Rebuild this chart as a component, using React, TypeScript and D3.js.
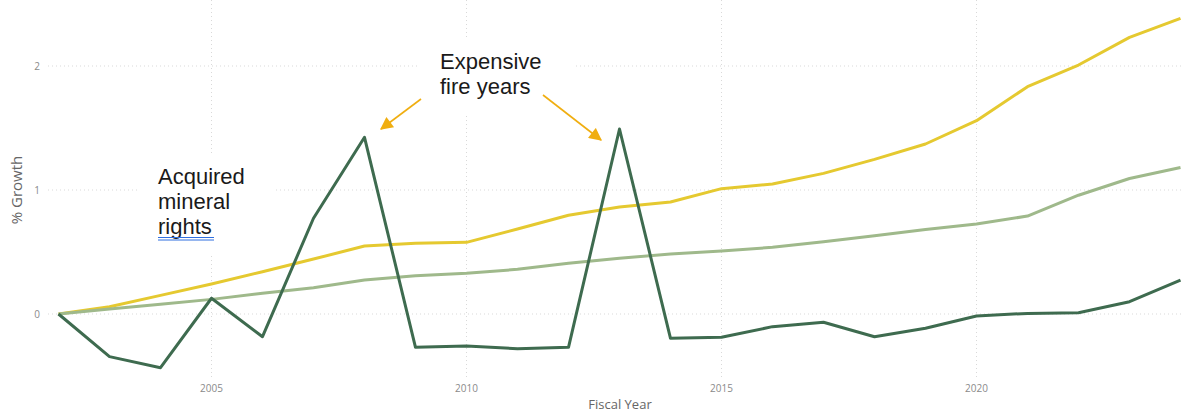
import React from "react";
import * as d3 from "d3";

const years: number[] = [2002,2003,2004,2005,2006,2007,2008,2009,2010,2011,2012,2013,2014,2015,2016,2017,2018,2019,2020,2021,2022,2023,2024];
const seriesDark: number[] = [0,-0.344,-0.433,0.127,-0.183,0.772,1.425,-0.269,-0.258,-0.280,-0.269,1.492,-0.196,-0.188,-0.102,-0.067,-0.183,-0.115,-0.016,0.005,0.01,0.099,0.274];
const seriesYellow: number[] = [0,0.059,0.15,0.242,0.341,0.443,0.548,0.570,0.578,0.685,0.796,0.863,0.903,1.011,1.048,1.134,1.247,1.371,1.559,1.833,2.008,2.231,2.384];
const seriesSage: number[] = [0,0.04,0.078,0.118,0.167,0.212,0.274,0.309,0.328,0.360,0.409,0.449,0.484,0.508,0.538,0.583,0.631,0.682,0.725,0.790,0.958,1.093,1.181];
const xTicks: number[] = [2005,2010,2015,2020];
const yTicks: number[] = [0,1,2];

const W = 1183, H = 415;

export default function App() {
  const x = d3.scaleLinear().domain([2002, 2024]).range([58.5, 1180.5]);
  const y = d3.scaleLinear().domain([0, 2]).range([314, 66]);
  const line = (vals: number[]) =>
    d3.line<number>().x((_, i) => x(years[i])).y((v) => y(v))(vals) || "";

  const axisFont = "'Open Sans', 'Noto Sans', sans-serif";
  const annFont = "'Liberation Sans', Arial, sans-serif";
  const arrowColor = "#f0ae10";

  return (
    <svg width={W} height={H} style={{ position: "absolute", left: 0, top: 0, background: "#fff" }}>
      <defs>
        <marker id="ah" viewBox="0 0 10 10" refX="9" refY="5" markerWidth="9" markerHeight="8" orient="auto" markerUnits="strokeWidth">
          <path d="M0,0 L10,5 L0,10 z" fill={arrowColor} />
        </marker>
      </defs>
      {yTicks.map((t) => (
        <line key={"gy" + t} x1={48} x2={1181} y1={y(t)} y2={y(t)} stroke="#d9d9d9" strokeWidth={1} strokeDasharray="1,3" />
      ))}
      {xTicks.map((t) => (
        <line key={"gx" + t} x1={x(t)} x2={x(t)} y1={0} y2={380} stroke="#d9d9d9" strokeWidth={1} strokeDasharray="1,3" />
      ))}
      <rect x={139} y={154} width={134} height={99} fill="#fff" />
      <rect x={420} y={40} width={153} height={75} fill="#fff" />
      {yTicks.map((t) => (
        <text key={"ty" + t} x={40} y={y(t) + 3.5} textAnchor="end" fontSize={10} fill="#8a8a8a" fontFamily={axisFont}>{t}</text>
      ))}
      {xTicks.map((t) => (
        <text key={"tx" + t} x={x(t)} y={392} textAnchor="middle" fontSize={10} fill="#8a8a8a" fontFamily={axisFont}>{t}</text>
      ))}
      <text x={620} y={409} textAnchor="middle" fontSize={13} fill="#666" fontFamily={axisFont}>Fiscal Year</text>
      <text transform="translate(22,190) rotate(-90)" textAnchor="middle" fontSize={15} fill="#666" fontFamily={axisFont}>% Growth</text>
      <path d={line(seriesYellow)} fill="none" stroke="#e5c930" strokeWidth={3} strokeLinejoin="round" />
      <path d={line(seriesSage)} fill="none" stroke="#9fb98b" strokeWidth={3} strokeLinejoin="round" />
      <path d={line(seriesDark)} fill="none" stroke="#3e6b4f" strokeWidth={3} strokeLinejoin="round" />
      <g fontFamily={annFont} fontSize={22} fill="#1a1a1a">
        <text x={158} y={184}>Acquired</text>
        <text x={158} y={209}>mineral</text>
        <text x={158} y={234}>rights</text>
        <text x={440} y={69}>Expensive</text>
        <text x={440} y={94}>fire years</text>
      </g>
      <line x1={158} x2={214} y1={237.5} y2={237.5} stroke="#2f6fe0" strokeWidth={1} />
      <line x1={158} x2={214} y1={240} y2={240} stroke="#2f6fe0" strokeWidth={1} />
      <line x1={421} y1={99} x2={381} y2={129} stroke={arrowColor} strokeWidth={1.6} markerEnd="url(#ah)" />
      <line x1={543} y1={95} x2={601} y2={140} stroke={arrowColor} strokeWidth={1.6} markerEnd="url(#ah)" />
    </svg>
  );
}
